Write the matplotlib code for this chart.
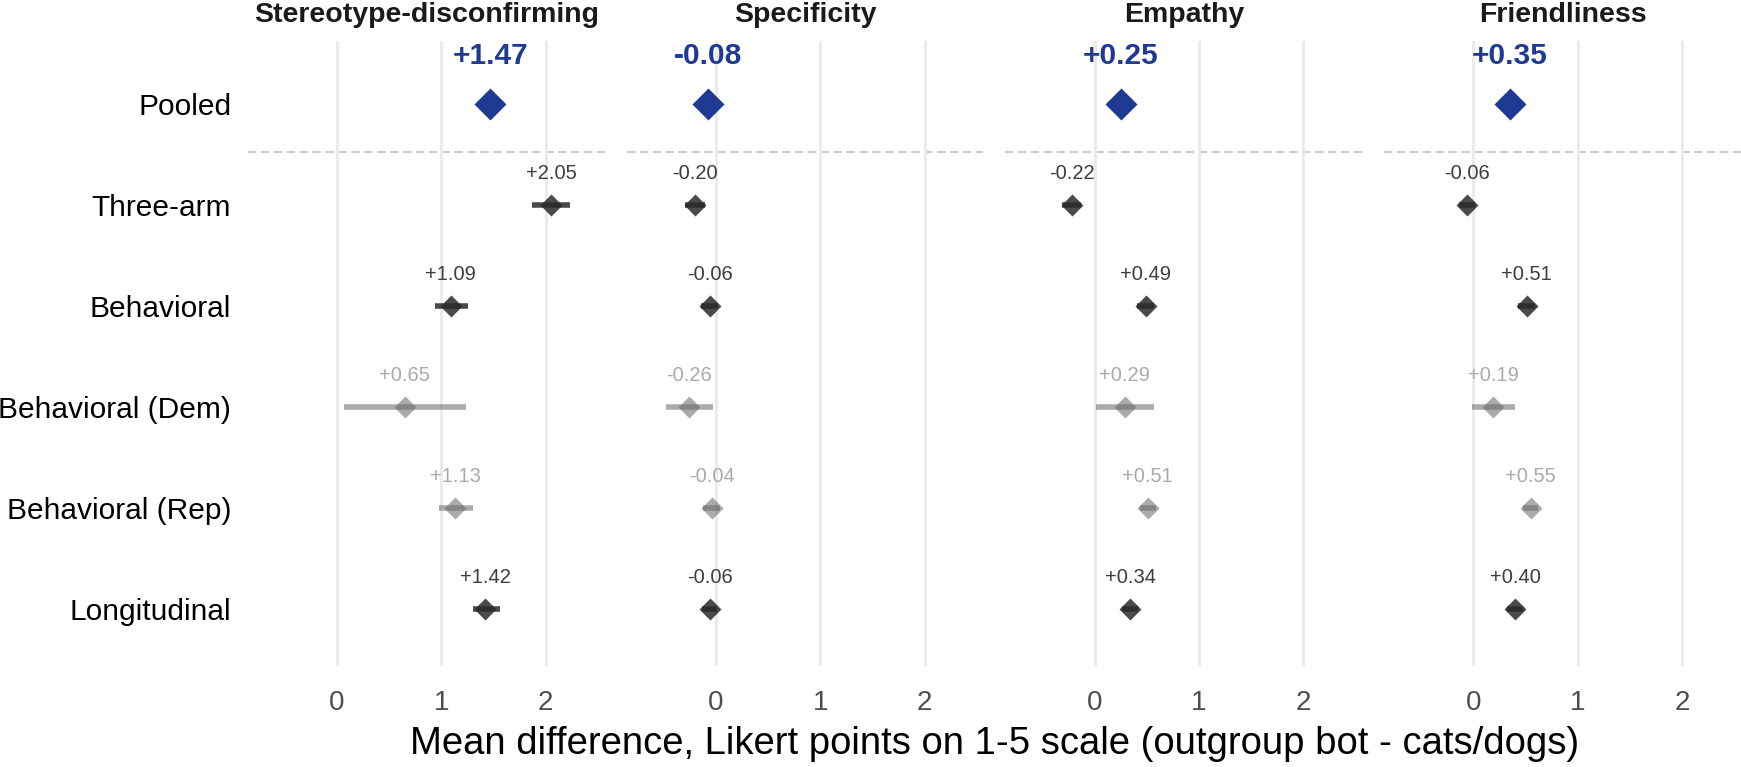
import numpy as np
import matplotlib.pyplot as plt

plt.rcParams['font.family'] = ['Liberation Sans', 'DejaVu Sans']

outcomes = ['Stereotype-disconfirming', 'Specificity', 'Empathy', 'Friendliness']
studies = ['Three-arm', 'Behavioral', 'Behavioral (Dem)', 'Behavioral (Rep)', 'Longitudinal']
subgroup = [False, False, True, True, False]

pooled = [1.47, -0.08, 0.25, 0.35]

# mean, lower, upper per outcome (rows follow `studies`)
means = {
    'Stereotype-disconfirming': [2.05, 1.09, 0.65, 1.13, 1.42],
    'Specificity': [-0.20, -0.06, -0.26, -0.04, -0.06],
    'Empathy': [-0.22, 0.49, 0.29, 0.51, 0.34],
    'Friendliness': [-0.06, 0.51, 0.19, 0.55, 0.40],
}
lower = {
    'Stereotype-disconfirming': [1.87, 0.94, 0.07, 0.98, 1.30],
    'Specificity': [-0.30, -0.14, -0.48, -0.12, -0.13],
    'Empathy': [-0.31, 0.41, 0.01, 0.43, 0.26],
    'Friendliness': [-0.14, 0.43, -0.01, 0.48, 0.32],
}
upper = {
    'Stereotype-disconfirming': [2.23, 1.25, 1.24, 1.30, 1.56],
    'Specificity': [-0.10, 0.02, -0.03, 0.04, 0.01],
    'Empathy': [-0.13, 0.57, 0.57, 0.59, 0.42],
    'Friendliness': [0.02, 0.59, 0.40, 0.62, 0.48],
}

BLUE = '#1f3a93'

fig, axes = plt.subplots(1, 4, figsize=(17.41, 7.67), dpi=100)
fig.subplots_adjust(left=0.1424, right=1.0, top=0.9465, bottom=0.1317, wspace=0.0616)

row_labels = ['Pooled'] + studies
ypos = np.arange(len(row_labels))

for k, (ax, name) in enumerate(zip(axes, outcomes)):
    ax.set_xlim(-0.855, 2.565)
    ax.set_ylim(5.564, -0.624)
    for s in ax.spines.values():
        s.set_visible(False)
    ax.set_xticks([0, 1, 2])
    ax.grid(axis='x', color='#ebebeb', lw=2.2, zorder=0)
    ax.grid(axis='y', visible=False)
    ax.tick_params(length=0, labelsize=20, labelcolor='#4d4d4d', pad=17)
    ax.axvline(0, color='#8c8c8c', lw=1.8, ls=(0, (5.6, 2.4)), zorder=1)
    ax.axhline(0.47, color='#cccccc', lw=1.5, ls=(0, (4, 2.2)), zorder=1)

    # pooled estimate
    ax.plot(pooled[k], 0, marker='D', ms=15.8, color=BLUE, mec='none', zorder=4)
    ax.text(pooled[k], -0.475, f'{pooled[k]:+.2f}', ha='center', va='center',
            fontsize=21.5, fontweight='bold', color=BLUE, zorder=5)

    for i, (m, lo, hi, sub) in enumerate(zip(means[name], lower[name], upper[name], subgroup)):
        y = ypos[i + 1]
        if sub:
            c, a, tc = '#666666', 0.55, '#aaaaaa'
        else:
            c, a, tc = '#2a2a2a', 0.85, '#3d3d3d'
        ax.plot([lo, hi], [y, y], color=c, alpha=a, lw=4, solid_capstyle='butt', zorder=3)
        ax.plot(m, y, marker='D', ms=11, color=c, alpha=a, mec='none', zorder=3)
        ax.text(m, y - 0.31, f'{m:+.2f}', ha='center', va='center',
                fontsize=14.5, color=tc, zorder=5)

    ax.set_title(name, fontsize=20.5, fontweight='bold', color='#1a1a1a', pad=14)
    ax.set_yticks(ypos)
    if k == 0:
        ax.set_yticklabels(row_labels, fontsize=21.5, color='black')
        ax.tick_params(axis='y', pad=12)
    else:
        ax.set_yticklabels([])

fig.text(0.5713, 0.017, 'Mean difference, Likert points on 1-5 scale (outgroup bot - cats/dogs)',
         ha='center', va='baseline', fontsize=27.5, color='black')

fig.savefig('out.png', dpi=100)
